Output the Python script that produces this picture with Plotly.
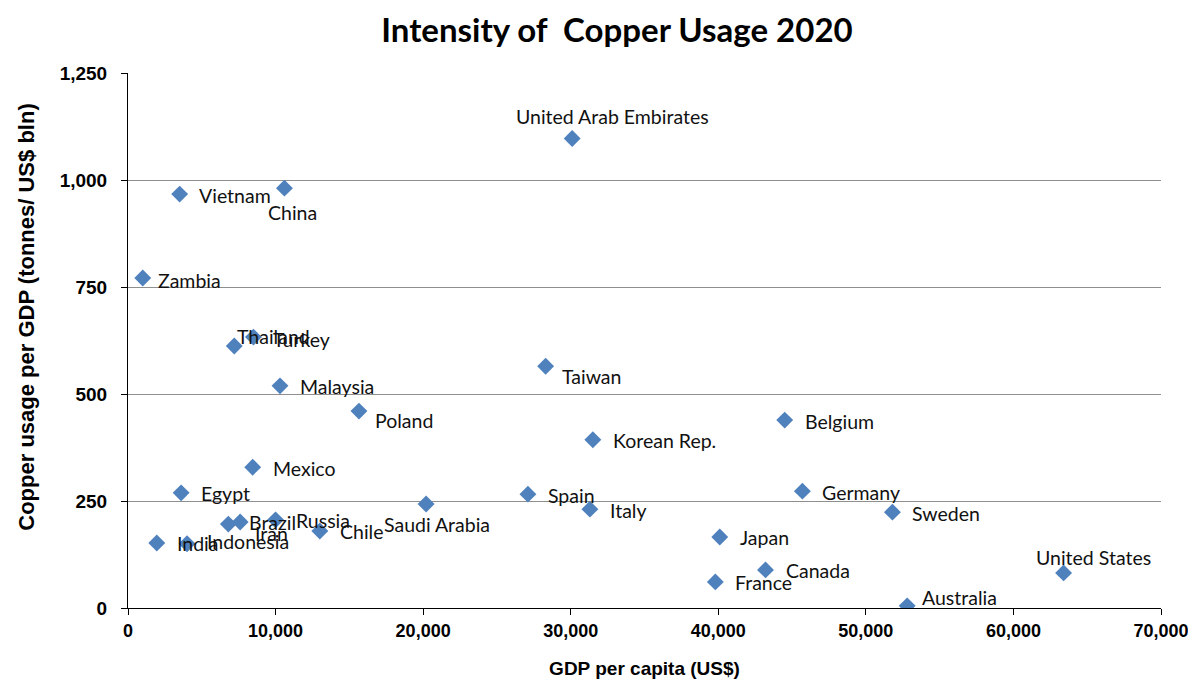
import plotly.graph_objects as go

countries = ["United Arab Embirates", "Vietnam", "China", "Zambia", "Thailand", "Turkey",
             "Malaysia", "Taiwan", "Poland", "Korean Rep.", "Belgium", "Mexico", "Egypt",
             "Germany", "Spain", "Saudi Arabia", "Italy", "Sweden", "Russia", "Brazil", "Iran",
             "Chile", "India", "Indonesia", "Japan", "Canada", "France", "Australia",
             "United States"]
gdp_per_capita = [30100, 3500, 10600, 1000, 7200, 8500,
                  10300, 28300, 15650, 31500, 44500, 8450, 3600,
                  45700, 27100, 20200, 31300, 51800, 10000, 7600, 6800,
                  13000, 1950, 4000, 40100, 43200, 39800, 52800,
                  63400]
copper_intensity = [1097, 967, 981, 771, 612, 633,
                    519, 565, 460, 393, 439, 329, 269,
                    273, 266, 243, 231, 224, 206, 201, 196,
                    180, 152, 150, 166, 89, 61, 5,
                    82]

# label placement (pixel shifts from each point, anchor)
label_style = {
    "United Arab Embirates": (40, 22, "center"),
    "Vietnam": (17, -1, "left"),
    "China": (-18, -24, "left"),
    "Zambia": (13, -2, "left"),
    "Thailand": (1, 10, "left"),
    "Turkey": (18, -2, "left"),
    "Taiwan": (14, -10, "left"),
    "Poland": (14, -9, "left"),
    "Saudi Arabia": (-44, -20, "left"),
    "Brazil": (7, -1, "left"),
    "Iran": (25, -9, "left"),
    "Indonesia": (18, 2, "left"),
    "Australia": (13, 8, "left"),
    "United States": (30, 15, "center"),
}

fig = go.Figure()
fig.add_trace(go.Scatter(
    x=gdp_per_capita, y=copper_intensity, mode="markers",
    marker=dict(symbol="diamond", size=13, color="#4F81BD",
                line=dict(width=0)),
    hoverinfo="text", text=countries, showlegend=False,
))

for name, xv, yv in zip(countries, gdp_per_capita, copper_intensity):
    dx, dy, anc = label_style.get(name, (18, -1, "left"))
    fig.add_annotation(x=xv, y=yv, text=name, showarrow=False,
                       xanchor=anc, yanchor="middle", xshift=dx, yshift=dy,
                       font=dict(family="Lato, Open Sans, sans-serif", size=19.5, color="#111"))

# y-axis title as a rotated annotation (sits slightly above the plot centre, as in the reference)
fig.add_annotation(xref="paper", yref="paper", x=-0.098, y=0.544, showarrow=False,
                   text="<b>Copper usage per GDP (tonnes/ US$ bln)</b>", textangle=-90,
                   xanchor="center", yanchor="middle",
                   font=dict(family="Liberation Sans, Arial, sans-serif", size=22, color="black"))

# page body has an 8px margin, so the figure is sized to fit the 1196x682 window
fig.update_layout(
    width=1188, height=674,
    paper_bgcolor="white", plot_bgcolor="white",
    margin=dict(l=120, r=35, t=65, b=74, autoexpand=False),
    title=dict(text="<b>Intensity of  Copper Usage 2020</b>", x=0.5126, xanchor="center",
               y=0.967, yanchor="middle", yref="container", automargin=False,
               font=dict(family="Lato, Open Sans, sans-serif", size=33, color="black")),
    xaxis=dict(range=[0, 70000], dtick=10000, tickformat=",", showgrid=False,
               showline=True, linecolor="black", linewidth=1,
               ticks="outside", ticklen=6, tickcolor="black", automargin=False,
               tickfont=dict(family="Liberation Sans, Arial, sans-serif", size=18, color="black", weight="bold"),
               title=dict(text="<b>GDP per capita (US$)</b>", standoff=22,
                          font=dict(family="Liberation Sans, Arial, sans-serif", size=19, color="black")),
               zeroline=False, fixedrange=True),
    yaxis=dict(range=[0, 1250], dtick=250, tickformat=",", showgrid=True,
               gridcolor="#8f8f8f", gridwidth=1,
               showline=True, linecolor="black", linewidth=1,
               ticks="outside", ticklen=6, tickcolor="black", automargin=False,
               ticklabelstandoff=10,
               tickfont=dict(family="Liberation Sans, Arial, sans-serif", size=19, color="black", weight="bold"),
               zeroline=False, fixedrange=True),
)

fig.write_html("out.html")
